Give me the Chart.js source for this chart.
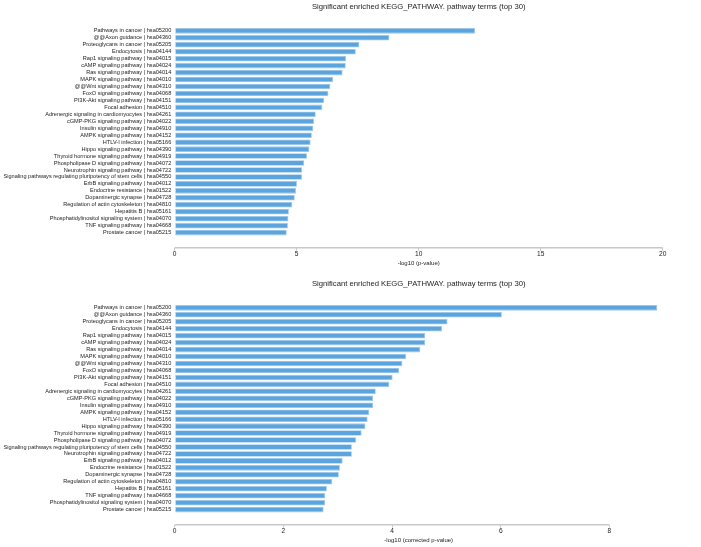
<!DOCTYPE html>
<html>
<head>
<meta charset="utf-8">
<script src="https://cdn.jsdelivr.net/npm/chart.js@4/dist/chart.umd.min.js"></script>
<style>
  html, body { margin: 0; padding: 0; background: #fff; }
  .box { position: absolute; left: 0; width: 701px; height: 270px; }
  #top { top: 0; }
  #bottom { top: 277px; }
</style>
</head>
<body>
<div class="box" id="top"><canvas id="pvalChart"></canvas></div>
<div class="box" id="bottom"><canvas id="corrChart"></canvas></div>
<script>
/* KEGG enrichment, top 30 terms */
const pvalLabels = [
    'Pathways in cancer | hsa05200', '@@Axon guidance | hsa04360', 'Proteoglycans in cancer | hsa05205',
    'Endocytosis | hsa04144', 'Rap1 signaling pathway | hsa04015', 'cAMP signaling pathway | hsa04024',
    'Ras signaling pathway | hsa04014', 'MAPK signaling pathway | hsa04010', '@@Wnt signaling pathway | hsa04310',
    'FoxO signaling pathway | hsa04068', 'PI3K-Akt signaling pathway | hsa04151', 'Focal adhesion | hsa04510',
    'Adrenergic signaling in cardiomyocytes | hsa04261', 'cGMP-PKG signaling pathway | hsa04022',
    'Insulin signaling pathway | hsa04910', 'AMPK signaling pathway | hsa04152', 'HTLV-I infection | hsa05166',
    'Hippo signaling pathway | hsa04390', 'Thyroid hormone signaling pathway | hsa04919',
    'Phospholipase D signaling pathway | hsa04072', 'Neurotrophin signaling pathway | hsa04722',
    'Signaling pathways regulating pluripotency of stem cells | hsa04550', 'ErbB signaling pathway | hsa04012',
    'Endocrine resistance | hsa01522', 'Dopaminergic synapse | hsa04728', 'Regulation of actin cytoskeleton | hsa04810',
    'Hepatitis B | hsa05161', 'Phosphatidylinositol signaling system | hsa04070', 'TNF signaling pathway | hsa04668',
    'Prostate cancer | hsa05215'
];
const pvalValues = [
    12.31, 8.80, 7.57, 7.42, 7.02, 7.01, 6.88, 6.49, 6.38, 6.30,
    6.12, 6.05, 5.78, 5.71, 5.68, 5.62, 5.57, 5.52, 5.42, 5.31,
    5.22, 5.22, 5.01, 4.97, 4.92, 4.82, 4.68, 4.66, 4.64, 4.59
];

const corrLabels = [
    'Pathways in cancer | hsa05200', '@@Axon guidance | hsa04360', 'Proteoglycans in cancer | hsa05205',
    'Endocytosis | hsa04144', 'Rap1 signaling pathway | hsa04015', 'cAMP signaling pathway | hsa04024',
    'Ras signaling pathway | hsa04014', 'MAPK signaling pathway | hsa04010', '@@Wnt signaling pathway | hsa04310',
    'FoxO signaling pathway | hsa04068', 'PI3K-Akt signaling pathway | hsa04151', 'Focal adhesion | hsa04510',
    'Adrenergic signaling in cardiomyocytes | hsa04261', 'cGMP-PKG signaling pathway | hsa04022',
    'Insulin signaling pathway | hsa04910', 'AMPK signaling pathway | hsa04152', 'HTLV-I infection | hsa05166',
    'Hippo signaling pathway | hsa04390', 'Thyroid hormone signaling pathway | hsa04919',
    'Phospholipase D signaling pathway | hsa04072',
    'Signaling pathways regulating pluripotency of stem cells | hsa04550',
    'Neurotrophin signaling pathway | hsa04722', 'ErbB signaling pathway | hsa04012',
    'Endocrine resistance | hsa01522', 'Dopaminergic synapse | hsa04728', 'Regulation of actin cytoskeleton | hsa04810',
    'Hepatitis B | hsa05161', 'TNF signaling pathway | hsa04668', 'Phosphatidylinositol signaling system | hsa04070',
    'Prostate cancer | hsa05215'
];
const corrValues = [
    8.88, 6.02, 5.02, 4.92, 4.61, 4.61, 4.52, 4.26, 4.19, 4.13,
    4.01, 3.95, 3.70, 3.65, 3.65, 3.58, 3.55, 3.51, 3.44, 3.34,
    3.26, 3.26, 3.09, 3.04, 3.02, 2.90, 2.80, 2.77, 2.77, 2.74
];

const chartTitle = 'Significant enriched KEGG_PATHWAY. pathway terms (top 30)';

Chart.defaults.font.family = "'Liberation Sans', Arial, Helvetica, sans-serif";
Chart.defaults.color = '#222';

// axis line only runs from the first to the last tick
const axisLine = {
    id: 'axisLine',
    beforeDatasetsDraw(chart) {
        const x = chart.scales.x;
        const ticks = x.ticks;
        const ctx = chart.ctx;
        const y = chart.chartArea.bottom;
        ctx.save();
        ctx.strokeStyle = '#c8c8c8';
        ctx.lineWidth = 1.5;
        ctx.beginPath();
        ctx.moveTo(x.getPixelForValue(ticks[0].value), y);
        ctx.lineTo(x.getPixelForValue(ticks[ticks.length - 1].value), y);
        ctx.stroke();
        ctx.restore();
    }
};

function createChart(id, labels, values, xTitle, xMax, step) {
    const ctx = document.getElementById(id).getContext('2d');
    return new Chart(ctx, {
        type: 'bar',
        data: {
            datasets: [{
                data: values.map((v, i) => ({ x: v, y: i })),
                backgroundColor: '#5ba4dd',
                borderColor: '#9cc8ec',
                borderWidth: 0.8,
                borderSkipped: false,
                categoryPercentage: 1,
                barPercentage: 0.8,
            }]
        },
        options: {
            indexAxis: 'y',
            responsive: true,
            maintainAspectRatio: false,
            animation: false,
            layout: { padding: { top: 0, right: 38.3, bottom: 3.2, left: 0 } },
            plugins: {
                legend: { display: false },
                tooltip: { enabled: false },
                title: {
                    display: true,
                    text: chartTitle,
                    fullSize: false,
                    color: '#222',
                    font: { size: 7.7, weight: 'normal' },
                    padding: { top: 2.5, bottom: 11.9 }
                }
            },
            scales: {
                y: {
                    type: 'linear',
                    reverse: true,
                    min: -0.5,
                    max: 30.63,
                    afterBuildTicks: s => { s.ticks = labels.map((_, i) => ({ value: i })); },
                    afterFit: s => { s.width = 174.7; },
                    grid: { display: false, drawTicks: false },
                    border: { display: false },
                    ticks: {
                        autoSkip: false,
                        padding: 3.4,
                        font: { size: 5.6 },
                        callback: v => labels[v]
                    }
                },
                x: {
                    type: 'linear',
                    min: 0,
                    max: xMax,
                    border: { display: false },
                    grid: { drawOnChartArea: false, tickLength: 3, color: '#c8c8c8' },
                    ticks: { stepSize: step, includeBounds: false, padding: 0, font: { size: 6.6 } },
                    title: {
                        display: true,
                        text: xTitle,
                        font: { size: 6 },
                        padding: { top: 1, bottom: 0 }
                    }
                }
            }
        },
        plugins: [axisLine]
    });
}

createChart('pvalChart', pvalLabels, pvalValues, '-log10 (p-value)', 20, 5);
createChart('corrChart', corrLabels, corrValues, '-log10 (corrected p-value)', 8.98, 2);
</script>
</body>
</html>
